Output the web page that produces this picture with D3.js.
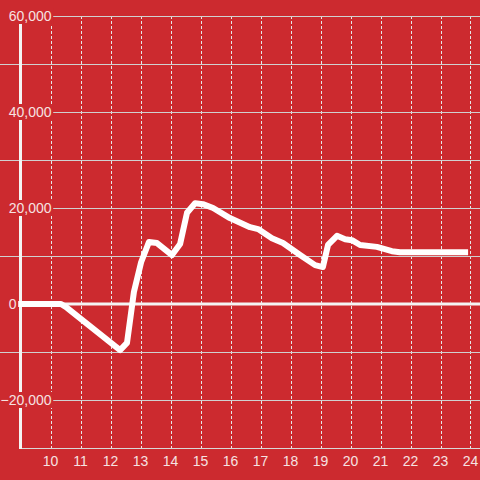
<!DOCTYPE html>
<html>
<head>
<meta charset="utf-8">
<script src="https://cdn.jsdelivr.net/npm/d3@7"></script>
<style>
  html, body { margin: 0; padding: 0; background: #cc2a2f; }
  svg { display: block; }
  text { font-family: "Liberation Sans", Arial, sans-serif; }
</style>
</head>
<body>
<svg id="chart" width="480" height="480"></svg>
<script>
// ---- data ----
const hours = [8.88, 10.35, 10.55, 12.32, 12.55, 12.78, 13.02, 13.28, 13.55, 14.05, 14.32, 14.55, 14.82, 15.08, 15.42, 15.98, 16.65, 16.92, 17.38, 17.75, 18.32, 18.82, 19.08, 19.25, 19.55, 19.82, 20.05, 20.32, 20.88, 21.38, 21.65, 23.92];
const values = [0, 0, -800, -9600, -8100, 2500, 8700, 12900, 12700, 10200, 12500, 19000, 21000, 20800, 20000, 17900, 16000, 15600, 13700, 12700, 10200, 8100, 7700, 12300, 14200, 13500, 13300, 12300, 11900, 11000, 10800, 10800];
const xTickValues = [10, 11, 12, 13, 14, 15, 16, 17, 18, 19, 20, 21, 22, 23, 24];
const yMajorTicks = [-20000, 0, 20000, 40000, 60000];
const yMinorTicks = [-10000, 10000, 30000, 50000];

const W = 480, H = 480;
const plotLeft = 20.5, plotRight = 479.5, plotTop = 16, plotBottom = 448;
const bg = "#cc2a2f";
const labelColor = "#f6e2e2";

const svg = d3.select("#chart");
svg.append("rect").attr("width", W).attr("height", H).attr("fill", bg);

const x = d3.scaleLinear().domain([9, 24.3]).range([plotLeft, plotRight]);
const y = d3.scaleLinear().domain([-30000, 60000]).range([plotBottom, plotTop]);

// vertical dashed gridlines
svg.append("g").selectAll("line").data(xTickValues).join("line")
  .attr("x1", d => Math.round(x(d)) + 0.5).attr("x2", d => Math.round(x(d)) + 0.5)
  .attr("y1", y(60000)).attr("y2", plotBottom)
  .attr("stroke", "#e6e6e6").attr("stroke-width", 1).attr("stroke-dasharray", "3,2");

// horizontal gridlines
const hLines = yMinorTicks.concat(yMajorTicks.filter(d => d !== 0));
svg.append("g").selectAll("line").data(hLines).join("line")
  .attr("x1", 0).attr("x2", W)
  .attr("y1", d => Math.round(y(d)) + 0.5).attr("y2", d => Math.round(y(d)) + 0.5)
  .attr("stroke", "#d0d0d0").attr("stroke-width", 1);

// x axis baseline
svg.append("line")
  .attr("x1", plotLeft).attr("x2", W).attr("y1", plotBottom + 0.5).attr("y2", plotBottom + 0.5)
  .attr("stroke", "#d8d8d8").attr("stroke-width", 1);

// zero line
svg.append("line")
  .attr("x1", 0).attr("x2", W).attr("y1", y(0)).attr("y2", y(0))
  .attr("stroke", "#f4f4f4").attr("stroke-width", 3);

// y axis line
svg.append("line")
  .attr("x1", plotLeft).attr("x2", plotLeft).attr("y1", plotTop).attr("y2", plotBottom + 1)
  .attr("stroke", "#f4f4f4").attr("stroke-width", 3);

// data line
const line = d3.line().x((d, i) => x(hours[i])).y(d => y(d)).curve(d3.curveLinear);
svg.append("path").attr("d", line(values))
  .attr("fill", "none").attr("stroke", "#ffffff").attr("stroke-width", 6)
  .attr("stroke-linejoin", "round").attr("stroke-linecap", "butt");

// y labels with background boxes
const fmt = d3.format(",");
const yl = svg.append("g");
yMajorTicks.forEach(d => {
  const endX = d === 0 ? 16.5 : 51.5;
  const t = yl.append("text")
    .attr("x", endX).attr("y", y(d)).attr("dy", "0.36em")
    .attr("text-anchor", "end").attr("font-size", 14)
    .attr("fill", labelColor).text(fmt(d));
  const bb = t.node().getBBox();
  yl.insert("rect", "text")
    .attr("x", 0).attr("y", y(d) - 8)
    .attr("width", bb.x + bb.width + 1.5).attr("height", 16)
    .attr("fill", bg);
});

// x labels
svg.append("g").selectAll("text").data(xTickValues).join("text")
  .attr("x", d => x(d)).attr("y", 461).attr("dy", "0.36em")
  .attr("text-anchor", "middle").attr("font-size", 14)
  .attr("fill", labelColor).text(d => d);
</script>
</body>
</html>
